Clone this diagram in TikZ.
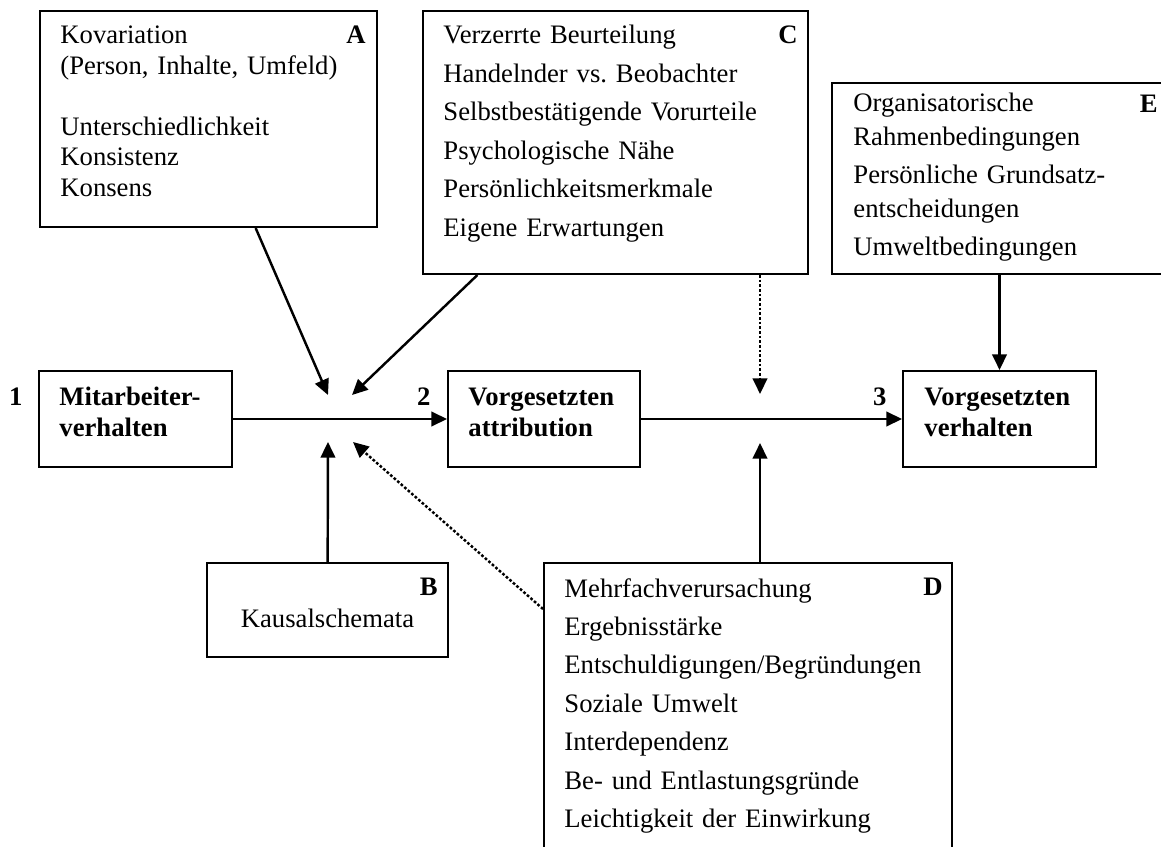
\documentclass[tikz,border=0pt]{standalone}
\usepackage{fontspec}
\setmainfont{Liberation Serif}
\usepackage{tikz}
\usetikzlibrary{arrows.meta, calc, positioning}

\frenchspacing

\tikzset{
  kasten/.style    = {draw, rectangle, line width=0.9pt, inner sep=0pt},
  liste/.style     = {anchor=base west, inner sep=0pt, text width=7cm, align=left},
  marke/.style     = {anchor=base east, inner sep=0pt, font=\fontsize{12}{14}\selectfont\bfseries},
  pfeil/.style     = {line width=1.1pt, -{Triangle[length=7pt, width=6.5pt]}},
  gepunktet/.style = {pfeil, dash pattern=on 1.2pt off 0.9pt},
}

\begin{document}
\begin{tikzpicture}[x=0.45pt, y=-0.45pt]

\useasboundingbox (0,0) rectangle (1161,847);
\clip (0,0) rectangle (1161,847);

% Kaesten
\node [kasten, minimum width=151.65pt, minimum height=97.2pt  ] (a)  at (208.5,119)  {};
\node [kasten, minimum width=173.25pt, minimum height=118.35pt] (c)  at (615.5,142.5) {};
\node [kasten, minimum width=151.2pt , minimum height=85.95pt ] (e)  at (1000,178.5)  {};
\node [kasten, minimum width=86.85pt , minimum height=43.2pt  ] (ma) at (135.5,419)  {};
\node [kasten, minimum width=86.4pt  , minimum height=43.2pt  ] (va) at (544,419)    {};
\node [kasten, minimum width=86.85pt , minimum height=43.2pt  ] (vv) at (999.5,419)  {};
\node [kasten, minimum width=108.45pt, minimum height=42.3pt  ] (b)  at (327.5,610)  {};
\node [kasten, minimum width=183.6pt , minimum height=142.65pt] (d)  at (748,721.5)  {};

% Texte
\node [liste, font=\fontsize{12}{13.7}\selectfont] (a-text) at ($(a.north west)+(21,34)$)
  {Kovariation\\(Person, Inhalte, Umfeld)\\[13.7pt]Unterschiedlichkeit\\Konsistenz\\Konsens};
\node [liste, font=\fontsize{12}{17.3}\selectfont] (c-text) at ($(c.north west)+(21,34)$)
  {Verzerrte Beurteilung\\Handelnder vs. Beobachter\\Selbstbest\"atigende Vorurteile\\Psychologische N\"ahe\\Pers\"onlichkeitsmerkmale\\Eigene Erwartungen};
\node [liste, font=\fontsize{12}{15.3}\selectfont] (e-text) at ($(e.north west)+(22,30)$)
  {Organisatorische\\Rahmenbedingungen\\[1.8pt]Pers\"onliche Grundsatz-\\entscheidungen\\[1.8pt]Umweltbedingungen};
\node [liste, font=\fontsize{12}{17.3}\selectfont] (d-text) at ($(d.north west)+(21,35)$)
  {Mehrfachverursachung\\Ergebnisst\"arke\\Entschuldigungen/Begr\"undungen\\Soziale Umwelt\\Interdependenz\\Be- und Entlastungsgr\"unde\\Leichtigkeit der Einwirkung};
\node [anchor=base, inner sep=0pt, font=\fontsize{12}{14}\selectfont] (b-text) at ($(b.north)+(0,65)$) {Kausalschemata};

\node [liste, font=\fontsize{12}{14}\selectfont\bfseries] (ma-text) at ($(ma.north west)+(21,35)$) {Mitarbeiter-\\verhalten};
\node [liste, font=\fontsize{12}{14}\selectfont\bfseries] (va-text) at ($(va.north west)+(21,35)$) {Vorgesetzten\\attribution};
\node [liste, font=\fontsize{12}{14}\selectfont\bfseries] (vv-text) at ($(vv.north west)+(22,35)$) {Vorgesetzten\\verhalten};

% Marken
\node [marke] (a-lab)  at ($(a.north east)+(-12,34)$)  {A};
\node [marke] (b-lab)  at ($(b.north east)+(-11,33)$)  {B};
\node [marke] (c-lab)  at ($(c.north east)+(-11,34)$)  {C};
\node [marke] (d-lab)  at ($(d.north east)+(-10,33)$)  {D};
\node [marke] (e-lab)  at ($(e.north east)+(-11,31)$)  {E};
\node [marke] (ma-lab) at ($(ma.north west)+(-15,35)$) {1};
\node [marke] (va-lab) at ($(va.north west)+(-16,35)$) {2};
\node [marke] (vv-lab) at ($(vv.north west)+(-15,35)$) {3};

% Knotenpunkte
\coordinate (j1)     at (328,419);
\coordinate (j2)     at (760,419);
\coordinate (j1-a)   at ($(j1)+(0,-24)$);
\coordinate (j1-c)   at ($(j1)+(24,-24)$);
\coordinate (j1-b)   at ($(j1)+(0,23)$);
\coordinate (j1-d)   at ($(j1)+(25,23)$);
\coordinate (j2-c)   at ($(j2)+(0,-25)$);
\coordinate (j2-d)   at ($(j2)+(0,24)$);
\coordinate (d-ecke) at ($(d.north west)+(0,47)$);
\coordinate (c-fuss) at (j2 |- c.south);
\coordinate (d-kopf) at (j2 |- d.north);
\coordinate (e-fuss) at (vv |- e.south);

% Pfeile
\path (ma)     edge [pfeil]     (va);
\path (va)     edge [pfeil]     (vv);
\path (a)      edge [pfeil]     (j1-a);
\path (c)      edge [pfeil]     (j1-c);
\path (b)      edge [pfeil]     (j1-b);
\path (d-ecke) edge [gepunktet] (j1-d);
\path (c-fuss) edge [gepunktet] (j2-c);
\path (d-kopf) edge [pfeil]     (j2-d);
\path (e-fuss) edge [pfeil]     (vv);

\end{tikzpicture}
\end{document}
